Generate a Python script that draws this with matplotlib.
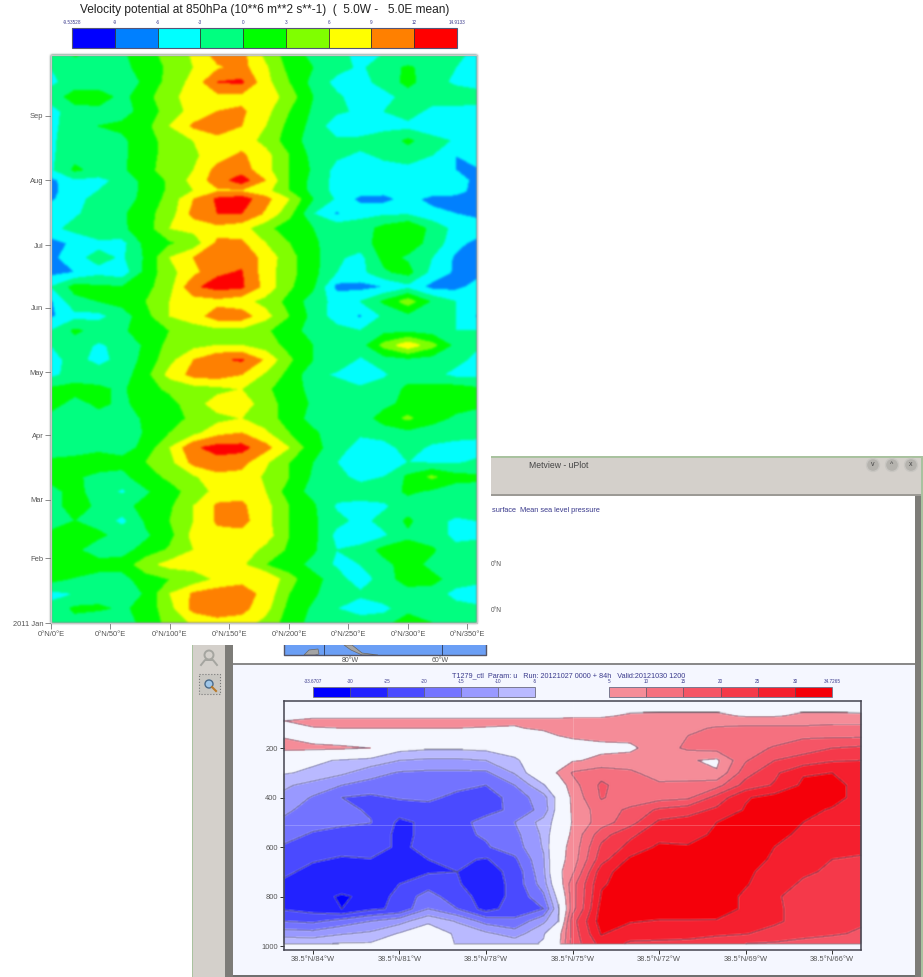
import matplotlib
matplotlib.use('Agg')
import matplotlib.pyplot as plt
from matplotlib.colors import ListedColormap, BoundaryNorm
from matplotlib.cm import ScalarMappable
from matplotlib.patches import Rectangle, Circle, Polygon
import numpy as np

plt.rcParams['font.family'] = ['Liberation Sans', 'DejaVu Sans']

W, H = 923, 977

# --- Hovmoller data: velocity potential, rows are days since 1 Jan
hov_lons = [0, 20, 40, 60, 80, 100, 120, 140, 160, 180, 200, 220, 240, 260, 280, 300, 320, 340, 358]
hov_days = [273, 266, 259, 252, 245, 238, 231, 224, 217, 212, 207, 203, 196, 189, 182, 175, 168, 161, 154, 147, 140,
            133, 126, 119, 112, 105, 98, 91, 84, 77, 70, 63, 56, 49, 42, 35, 28, 21, 14, 7, 0]
hov_values = [
    [-2, 0.5, -1, -0.5, 2, 4, 6.5, 10.5, 10, 5, 1.5, -1, -2.5, -3.5, -3, -3.5, -3, -2.5, -3.5],
    [-3, -1.5, -1.5, -1, 1.5, 3.5, 6, 8.5, 10, 6.5, 2, 0, -2, -3.5, -1.5, 0.5, -1.5, -3, -3.5],
    [-3.5, -2, -2, -3, 1, 4, 7, 12, 12.5, 7, 3, -1, -4, -4, -2, 1, -2, -3.5, -4],
    [-2, 1.5, 1.5, -1, 2, 5, 7.5, 8, 8, 8, 4.5, 0, -2.5, -4.5, -4, -2, -1.5, -1.5, -2],
    [-4, -1.5, -1, -1, 1, 4.5, 7, 9, 9.5, 7, 3, -0.5, -2.5, -3.5, -3, -1.5, -4, -4, -4],
    [-4, -1, 0, 0.5, 2, 6, 9.5, 10.5, 9, 6, 2, -1, -5, -6, -4, -4, -6, -5, -4],
    [-3.5, -1.5, -3, -0.5, 1.5, 4.5, 6, 8, 7.5, 5, 1.5, -1.5, -2.5, -2, -1.5, 0.5, -1.5, -3.5, -4],
    [-3.5, -1, -0.5, -0.5, 1.5, 4.5, 5.5, 7.5, 9.5, 7, 3, -1, -2.5, -3.5, -2.5, -1.5, -3, -6, -4],
    [-3.5, 0.5, -1, -0.5, 2, 4.5, 6, 10, 10.5, 7, 3, -0.5, -4, -4, -4, -4, -4, -6, -6.5],
    [-7, -3.5, -4, -2, 1, 3.5, 7, 10.5, 13.5, 9, 3, -1, -4, -4.5, -5, -4, -4.5, -4.5, -7],
    [-7, -4, -3, -2, 1, 3.5, 6, 8.5, 8.5, 7, 3, -1, -4, -4.5, -5, -4, -4.5, -5, -7],
    [-6.5, -4, -2, -1.5, 1, 4, 9, 12.5, 13.5, 10, 6, 0, -3.5, -7, -7, -5, -7, -7, -7],
    [-4, -3.5, -1.5, -0.5, 2, 4.5, 10, 12, 12, 8.5, 4, -3, -6.5, -4, -3.5, -3.5, -5, -6, -7],
    [-4, -2, 0, -0.5, 1.5, 6, 7, 8, 7, 4, 1, 0, -1, -1.5, 1, 3, -1, -4, -4],
    [-7, -5.5, -4, -4, 1, 2.5, 4, 9.5, 9.5, 6, 3, 0.5, -1.5, -1.5, 1.5, 1.5, -1, -5, -7],
    [-7, -4, -2, -3.5, 0.5, 6, 9, 11, 11, 8, 4, 1, -2.5, -4, 1, -0.5, -3, -6.5, -7],
    [-7, -6, -4, -5, 1, 5, 8, 11.5, 12.2, 7.5, 4, 1, -3, -4, -0.5, 1, -4, -6.5, -7],
    [-3, 1, 0.5, 0, 2, 5, 11.5, 13, 12.5, 8, 3.5, 0.5, -7, -7, -6, -4, -7, -7, -5],
    [-6.5, -1, 0, 1, 3, 6, 7.5, 8, 7, 5, 2, -1.5, -4, -3, 0.5, 4.5, -0.5, -3, -4],
    [-6.5, -4, -4, -1.5, 2, 6, 7.5, 10.5, 10.5, 7, 3, -1, -4.5, -6.5, -2.5, -1, -1.5, -3, -6.5],
    [-3, 0.5, -1, -0.5, 1.5, 3, 4.5, 5, 5, 3.5, 1, -1, -2, -3, -1, -1, -1.5, -3, -3],
    [-3, -1.5, -3.5, -2, 0.5, 4, 5, 6, 6, 4.5, 2, 0, -1.5, -1.5, 4, 8, 4, -1, -2.5],
    [-4, -2, -4, -2, 1, 5, 9, 11.5, 12.3, 8.5, 3.5, 0, -1, -3.5, -1.5, -1, -1.5, -2, -4],
    [-4, -1.5, -1.5, -1.5, 2, 7, 10, 10.5, 9, 5.5, 2, -2, -3.5, -5, -3.5, -1, -2, -4, -4],
    [0.5, 1, 0.5, -0.5, 2, 3.5, 4.5, 5, 6, 3.5, 1.5, -1, -1.5, -2.5, -1.5, 0.5, 1, 1.5, 0.5],
    [1, -1, 0.5, -0.5, 1, 2, 4.5, 7.5, 8, 4, 2, -0.5, -1.5, -1.5, -1, 1, 1.5, 1, 0.5],
    [-1, -1, -1, -1.5, 0.5, 2, 3.5, 5, 6, 4.5, 1.5, -1, -3, -2, 1.5, 3.5, 1, -0.5, -1],
    [-1.5, -1, -2, -3, 0.5, 3, 5, 8, 9, 6.5, 3, 0.5, -1.5, -2.5, -2, -1, -1.5, -1.5, -2],
    [-3, -1.5, -1, -1.5, 1, 6, 11.5, 13, 13, 10, 6, 1, -1.5, -4.5, -4, -2, -3.5, -4.5, -4.5],
    [1, 1, 2, 1, 3, 5, 10, 11, 10, 6.5, 3, 0, -3, -4.5, -4.5, -3, -3.5, -3.5, -2.5],
    [1, 0.5, -1, -1, 2, 3.5, 5.5, 8, 8, 5.5, 3, -0.5, -2, -4, -3, 0.5, 3.5, 1, 0.5],
    [-1, 1, -1.5, -3.5, -0.5, 2, 4, 7, 8, 6, 1.5, -1, -1.5, -1.5, -1.5, 0.5, -0.5, -1.5, -1],
    [-1, 1, -0.5, -1, 1, 2.5, 6, 9.5, 9.5, 7, 3, 0.5, -3.5, -4, -3.5, -1.5, -0.5, -1.5, -1],
    [-2, 0, -1, -4, 0.5, 3, 6, 9.5, 10, 7, 3, 0.5, -2, -4, -2, 0.5, -2, -3.5, -3],
    [1, 1, 0.5, -1, -0.5, 2, 7, 8, 8, 7.5, 3, 1, -4, -5, -3.5, -0.5, -2, -3.5, -3.5],
    [1, 0.5, -1.5, -1, 1, 3.5, 6, 8, 8, 5, 2.5, 0.5, -3, -2, 1, 1, 0.5, -2.5, -2],
    [1, 3, 1, 1, 5, 7, 7.5, 8, 6.5, 3, 1.5, -1, -3.5, -3, -1, 1.5, -1, -2.5, -2],
    [1, -0.5, -1, -1, 1.5, 3, 4, 6.5, 8, 9, 4, 1, -1.5, -5, -1.5, 1.5, 1, -1.5, -1.5],
    [-4, -3, -1.5, -3, 0.5, 6, 9.5, 10.5, 10.5, 8, 3, 0.5, -2, -2.5, -1, -1.5, -1.5, -4, -6],
    [-2, 0.5, 0.5, -0.5, 1, 5, 10, 10.5, 10, 7, 2, -0.5, -3, -4.5, -4, -1, -1.5, -2, -2],
    [-2, -1, -3, -1.5, 1, 4, 6.5, 8, 7.5, 5, 1.5, -1, -1, -1.5, -1, 1.5, 0, -1.5, -1.5],
]
hov_levels = [-9.53528, -9, -6, -3, 0, 3, 6, 9, 12, 14.9133]
hov_level_labels = ['-9.53528', '-9', '-6', '-3', '0', '3', '6', '9', '12', '14.9133']
hov_colors = ['#0000ff', '#0080ff', '#00ffff', '#00ff80', '#00ff00', '#80ff00', '#ffff00', '#ff8000', '#ff0000']
month_days = [0, 31, 59, 90, 120, 151, 181, 212, 243]
month_labels = ['2011 Jan', 'Feb', 'Mar', 'Apr', 'May', 'Jun', 'Jul', 'Aug', 'Sep']
hov_lon_ticks = [0, 50, 100, 150, 200, 250, 300, 350]

# --- Cross section data: u wind, rows are pressure levels
sec_lons = [-85, -84, -83, -82, -81, -80, -79, -78, -77, -76, -75.5, -75, -74, -73, -72, -71, -70, -69, -68, -67, -66, -65]
sec_plevs = [20, 50, 70, 90, 120, 150, 200, 250, 300, 350, 400, 450, 500, 550, 600, 650, 700, 750, 800, 850, 900, 950, 990]
sec_values = [
    [1.5, 1.5, 1.5, 1.5, 1.5, 1.5, 1.5, 1.5, 1.5, 1.5, 1.5, 1.5, 1.5, 1.5, 1.5, 1.5, 1.5, 1.5, 1.5, 1.5, 1.5, 1.5],
    [3, 3, 3, 3, 3, 3, 3, 3, 3, 3, 3, 3, 3, 4.5, 4.5, 4.5, 4.5, 4.5, 4.5, 4.5, 4.5, 4.5],
    [3, 4, 4, 4, 4, 4, 4, 4, 4, 4, 4, 4.5, 4.5, 5.5, 6, 6, 6, 4.5, 4.5, 6, 6, 5.5],
    [5, 6, 6, 6, 6, 6, 6, 6, 6, 6, 6, 6, 6, 7, 8, 8, 8, 8, 8, 8, 8, 8],
    [4, 4.8, 5, 5, 5, 5, 5, 4.8, 4.5, 6, 6.5, 7, 7.5, 7.5, 8, 9, 10.5, 11, 11, 11, 12, 12],
    [4.5, 2, 1, 1, 1, 1, 1, 1, 1, 3, 5, 5.5, 6, 6.5, 8, 10, 11.5, 12, 12.5, 14, 14, 14],
    [7, 6.5, 6, 5, -3, -4, -4, -3.5, -2, 0, 1, 3.5, 4, 4, 7.5, 11, 12, 13, 15.5, 18, 20, 21],
    [-3, -4, -5.5, -7, -10, -11, -11, -10, -6, 0, 1.5, 4.5, 6, 7, 7, 5.5, 4, 14.5, 20, 22, 24.5, 25],
    [-4.5, -6, -9, -13, -15.5, -16, -16, -16, -9.5, 2, 5.5, 10.5, 13, 11, 7.5, 8, 5.5, 18, 24, 29.5, 30, 27],
    [-9, -12, -15, -17, -18, -18, -18, -20, -15, -5.5, 1, 8, 16, 12, 11, 11, 13, 22, 25.5, 31, 32, 28],
    [-11.5, -15.5, -20, -21, -19.5, -18.5, -22, -22.5, -18, -12, -3, 6.5, 15.5, 12, 13, 14, 22, 29.5, 32, 33, 32, 28],
    [-14, -17, -19, -20.5, -23, -23, -22, -21.5, -19, -13, -2.5, 6, 12.5, 16, 21, 23, 26, 30.5, 33, 31.5, 29.5, 28],
    [-16, -18.5, -19, -19.8, -26, -24, -21.5, -18.5, -15, -8, -2.5, 5.5, 12.5, 18, 26, 27, 30, 34, 33, 30, 28.5, 27.5],
    [-18.5, -20.5, -22, -22.5, -26, -24, -21, -19.5, -16.5, -9, 1, 6, 18, 24, 28, 28, 31, 34, 32, 28.5, 26.5, 27],
    [-20.5, -23, -23.5, -22.5, -26, -23.5, -21.5, -20.5, -17.5, -9.5, 3, 6.5, 21, 26.5, 31, 30.5, 31, 33, 30, 27, 25.5, 26],
    [-22, -24.5, -25.5, -25.2, -26, -25, -24, -25.5, -21, -10.5, 3, 7, 23, 31, 32, 31, 31.5, 33, 29, 26.5, 25, 24.5],
    [-24, -26.5, -27, -27, -26.5, -25.5, -25, -27, -23.5, -11, 3.5, 9, 28, 33, 33, 33, 32, 31.5, 27, 25.5, 24.5, 24],
    [-26, -27, -28, -27.5, -25, -22, -24.5, -28, -23.5, -12.5, 1, 13, 29.5, 32, 33, 33, 33, 30.5, 26.5, 24.5, 24, 23.5],
    [-27, -28.5, -30.5, -29, -23, -18, -23, -27, -24, -16, -3, 13, 30.5, 33, 33, 33, 33, 29, 25.5, 23.5, 23, 23],
    [-25.5, -27, -30, -26, -24, -15, -20, -27, -22.5, -20, -6, 13, 32, 34, 34, 34, 33, 29, 25.5, 24, 22.5, 21.5],
    [-20, -21, -18, -15, -12, -6, -10.5, -17, -19, -11, -5, 18, 32.5, 30.5, 29.5, 29.5, 29.5, 27.5, 26, 23, 21.5, 20.5],
    [-12.5, -13, -10.5, -9, -4.5, -1, -6, -9, -12.5, -5.5, 2, 17, 30.5, 26.5, 27, 27, 26, 25.3, 23, 21, 20.5, 19.5],
    [-5.5, -6, -4.5, -4.5, -1, 0, -5.5, -6, -7, -4.5, 3, 17, 27, 24.5, 24, 23.5, 22, 20, 19.5, 19, 18, 18],
]
sec_neg_levels = [-33.6707, -30, -25, -20, -15, -10, -5]
sec_pos_levels = [5, 10, 15, 20, 25, 30, 34.7265]
sec_neg_labels = ['-33.6707', '-30', '-25', '-20', '-15', '-10', '-5']
sec_pos_labels = ['5', '10', '15', '20', '25', '30', '34.7265']
sec_neg_colors = ['#0000ff', '#2222ff', '#4a4aff', '#7474ff', '#9999ff', '#b9b9ff']
sec_pos_colors = ['#f58c98', '#f5707f', '#f55566', '#f53a4a', '#f51f2e', '#f5000a']
sec_lon_ticks = [-84, -81, -78, -75, -72, -69, -66]
sec_lon_labels = ['38.5°N/84°W', '38.5°N/81°W', '38.5°N/78°W', '38.5°N/75°W', '38.5°N/72°W', '38.5°N/69°W', '38.5°N/66°W']
sec_p_ticks = [200, 400, 600, 800, 1000]

TEXT_BLUE = '#3a3a8c'
TICK_GREY = '#555555'


def soft(sigma):
    """agg filter that softens drawn pixels, the original is a scaled screenshot."""
    radius = max(1, int(3 * sigma))
    kernel = np.exp(-0.5 * (np.arange(-radius, radius + 1) / sigma) ** 2)
    kernel /= kernel.sum()

    def process(image, dpi):
        out = np.pad(image, ((radius, radius), (radius, radius), (0, 0)), mode='constant')
        for axis in (0, 1):
            out = np.apply_along_axis(lambda v: np.convolve(v, kernel, mode='same'), axis, out)
        return out, -radius, -radius
    return process


def px_axes(fig, x0, y0, x1, y1, **kw):
    """Axes placed by reference pixel box (top left origin)."""
    return fig.add_axes([x0 / W, 1 - y1 / H, (x1 - x0) / W, (y1 - y0) / H], **kw)


def draw_window(fig):
    bg = fig.add_axes([0, 0, 1, 1], zorder=0)
    bg.set_xlim(0, W)
    bg.set_ylim(H, 0)
    bg.axis('off')

    def box(x0, y0, x1, y1, color, **kw):
        bg.add_patch(Rectangle((x0, y0), x1 - x0, y1 - y0, facecolor=color, edgecolor='none', **kw))

    # window frame
    box(491, 456, 923, 496, '#d4d0cb')
    box(491, 456, 923, 458, '#a9c29f')
    box(491, 494, 923, 496, '#9c9a95')
    box(491, 496, 915, 663, '#ffffff')
    box(915, 496, 923, 977, '#7d7c78')
    box(921, 456, 923, 977, '#a9c29f')
    box(192, 645, 225, 977, '#d4d0cb')
    box(192, 645, 193, 977, '#a9c29f')
    box(225, 645, 233, 977, '#7d7c78')
    box(233, 645, 915, 663, '#ffffff')
    box(233, 663, 915, 665, '#8a8a8a')
    box(233, 665, 915, 975, '#f5f7ff')
    box(233, 975, 915, 977, '#707070')

    # top plot panel hidden behind the first chart, only a strip of map remains
    box(284, 645, 486, 655, '#6b9ff5')
    bg.plot([284, 284, 486, 486], [645, 655, 655, 645], color='#555566', lw=1)
    bg.plot([324, 324], [645, 655], color='#334466', lw=0.7)
    bg.plot([442, 442], [645, 655], color='#334466', lw=0.7)
    bg.add_patch(Polygon([[304, 655], [309, 650], [318, 649], [319, 654], [315, 655]], facecolor='#a4a4a4', edgecolor='#666666', lw=0.5))
    bg.add_patch(Polygon([[344, 645], [352, 645], [362, 653], [378, 655], [362, 655], [351, 650]], facecolor='#a4a4a4', edgecolor='#666666', lw=0.5))
    bg.text(350, 661, '80°W', fontsize=5, color=TICK_GREY, ha='center', va='center')
    bg.text(440, 661, '60°W', fontsize=5, color=TICK_GREY, ha='center', va='center')

    bg.text(529, 465, 'Metview - uPlot', fontsize=6.2, color='#444444', va='center')
    for cx, mark in zip([873, 892, 911], ['v', '^', 'x']):
        bg.add_patch(Circle((cx, 465), 6.5, facecolor='#b5b3ae', edgecolor='#c8c6c2', lw=1))
        bg.text(cx, 465, mark, fontsize=5, color='#444444', ha='center', va='center')

    bg.text(492, 511, 'surface  Mean sea level pressure', fontsize=5.3, color=TEXT_BLUE, va='center')
    bg.text(491, 565, '0°N', fontsize=4.8, color=TICK_GREY, va='center')
    bg.text(491, 610, '0°N', fontsize=4.8, color=TICK_GREY, va='center')

    # toolbar icons
    bg.add_patch(Circle((209, 655), 4.5, facecolor='none', edgecolor='#a5a5a0', lw=1.4))
    bg.plot([201, 205, 213, 217], [665, 660, 660, 665], color='#a5a5a0', lw=1.4)
    bg.add_patch(Rectangle((199, 674), 21, 20, facecolor='#c9c7c2', edgecolor='#777777', ls=':', lw=0.8))
    bg.add_patch(Circle((209, 684), 4, facecolor='#9fc6e8', edgecolor='#4a6a8a', lw=1))
    bg.plot([212, 216], [687, 691], color='#b8792a', lw=1.5)

    # white page of the first chart sits on top of the window
    box(0, 0, 491, 645, '#ffffff', zorder=3)


def draw_hovmoller(fig):
    ax = px_axes(fig, 51, 55, 477, 623, zorder=4)
    norm = BoundaryNorm(hov_levels, len(hov_colors))
    cmap = ListedColormap(hov_colors)
    cs = ax.contourf(hov_lons, hov_days, np.array(hov_values), levels=hov_levels, cmap=cmap, norm=norm, extend='both')
    cs.set_agg_filter(soft(1.2))
    ax.set_xlim(0, 358)
    ax.set_ylim(0, 272)
    ax.set_yticks(month_days)
    ax.set_yticklabels(month_labels, fontsize=5.4, color=TICK_GREY)
    ax.set_xticks(hov_lon_ticks)
    ax.set_xticklabels(['0°N/%d°E' % v for v in hov_lon_ticks], fontsize=5.4, color=TICK_GREY)
    ax.tick_params(length=4, width=0.6, color='#777777', pad=1.5)
    for side, spine in ax.spines.items():
        spine.set_linewidth(0.8)
        spine.set_color('#c8c8c8')

    fig.text(264.5 / W, 1 - 10 / H, 'Velocity potential at 850hPa (10**6 m**2 s**-1)  (  5.0W -   5.0E mean)',
             fontsize=8.6, color='#222222', ha='center', va='center', zorder=5)

    cax = px_axes(fig, 72, 28, 457, 48, zorder=5)
    cb = fig.colorbar(ScalarMappable(norm=norm, cmap=cmap), cax=cax, orientation='horizontal',
                      spacing='uniform', ticks=hov_levels, drawedges=True)
    cb.ax.xaxis.set_ticks_position('top')
    cb.ax.set_xticklabels(hov_level_labels, fontsize=3.3, color=TEXT_BLUE)
    cb.ax.tick_params(length=0, pad=2.5)
    cb.outline.set_linewidth(0.8)
    cb.outline.set_edgecolor('#555577')
    cb.dividers.set_linewidth(0.6)
    cb.dividers.set_color('#333333')


def draw_section(fig):
    ax = px_axes(fig, 284, 701, 861, 950, zorder=4)
    ax.set_facecolor('#f5f7ff')
    values = np.array(sec_values)
    neg = ax.contourf(sec_lons, sec_plevs, values, levels=sec_neg_levels, colors=sec_neg_colors)
    pos = ax.contourf(sec_lons, sec_plevs, values, levels=sec_pos_levels, colors=sec_pos_colors)
    lines = ax.contour(sec_lons, sec_plevs, values, levels=sec_neg_levels + sec_pos_levels,
                       colors='#55556e', linewidths=0.7, alpha=0.8, linestyles='solid')
    for cs in (neg, pos, lines):
        cs.set_agg_filter(soft(0.7))
    ax.axhline(511, color='white', lw=0.6, alpha=0.25)
    ax.axvline(-75, color='white', lw=0.6, alpha=0.2)
    ax.set_xlim(-85, -65)
    ax.set_ylim(1016, 10)
    ax.set_xticks(sec_lon_ticks)
    ax.set_xticklabels(sec_lon_labels, fontsize=5.4, color=TICK_GREY)
    ax.set_yticks(sec_p_ticks)
    ax.set_yticklabels([str(p) for p in sec_p_ticks], fontsize=5.4, color=TICK_GREY)
    ax.tick_params(length=3, width=0.7, color='#333333', pad=1.5)
    for spine in ax.spines.values():
        spine.set_linewidth(1.1)
        spine.set_color('#444450')

    fig.text(569 / W, 1 - 676 / H, 'T1279_ctl  Param: u   Run: 20121027 0000 + 84h   Valid:20121030 1200',
             fontsize=5.2, color=TEXT_BLUE, ha='center', va='center', zorder=5)

    for box, levels, labels, colors in [
        ((313, 687, 535, 697), sec_neg_levels, sec_neg_labels, sec_neg_colors),
        ((609, 687, 832, 697), sec_pos_levels, sec_pos_labels, sec_pos_colors),
    ]:
        cax = px_axes(fig, *box, zorder=5)
        norm = BoundaryNorm(levels, len(colors))
        cb = fig.colorbar(ScalarMappable(norm=norm, cmap=ListedColormap(colors)), cax=cax,
                          orientation='horizontal', spacing='uniform', ticks=levels, drawedges=True)
        cb.ax.xaxis.set_ticks_position('top')
        cb.ax.set_xticklabels(labels, fontsize=3.3, color=TEXT_BLUE)
        cb.ax.tick_params(length=0, pad=2)
        cb.outline.set_linewidth(0.7)
        cb.outline.set_edgecolor('#7a7a90')
        cb.dividers.set_linewidth(0.5)
        cb.dividers.set_color('#555566')


fig = plt.figure(figsize=(W / 100, H / 100), dpi=100, facecolor='white')
draw_window(fig)
draw_hovmoller(fig)
draw_section(fig)
fig.savefig('out.png', dpi=100)
